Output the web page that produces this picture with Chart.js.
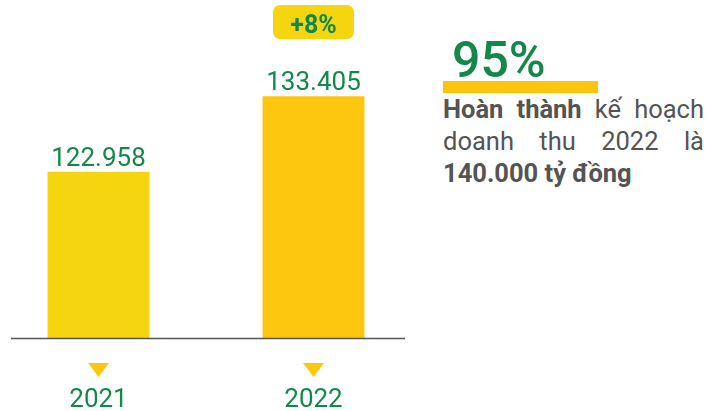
<!DOCTYPE html>
<html>
<head>
<meta charset="utf-8">
<script src="https://cdn.jsdelivr.net/npm/chart.js@4"></script>
<style>
  body { margin: 0; background: #fff; font-family: Roboto, sans-serif; }
  #wrap { position: relative; width: 711px; height: 411px; overflow: hidden; }
  #chartBox { position: absolute; left: -9px; top: 0; width: 430px; height: 411px; }
  .big { position: absolute; left: 452px; top: 35px; font-size: 50px; line-height: 1; font-weight: 500; color: #13884a; }
  .bar { position: absolute; left: 443px; top: 81px; width: 155px; height: 12px; background: #fcc60e; }
  .note { position: absolute; left: 443px; top: 93px; width: 261px; font-size: 25.5px; line-height: 32px; color: #545454; }
  .note div { text-align: justify; text-align-last: justify; }
  .note div.last { text-align-last: left; }
</style>
</head>
<body>
<div id="wrap">
  <div id="chartBox"><canvas id="revChart"></canvas></div>
  <div class="big">95%</div>
  <div class="bar"></div>
  <div class="note">
    <div><b>Hoàn thành</b> kế hoạch</div>
    <div>doanh thu 2022 là</div>
    <div class="last"><b>140.000 tỷ đồng</b></div>
  </div>
</div>
<script>
const years = ['2021', '2022'];
const revenue = [122958, 133405];
const growthBadges = ['', '+8%'];
const barColors = ['#f5d50f', '#fdc60f'];

const green = '#13884a';

const decorPlugin = {
  id: 'decor',
  afterDatasetsDraw(chart) {
    const ctx = chart.ctx;
    const area = chart.chartArea;
    const meta = chart.getDatasetMeta(0);
    ctx.save();

    // baseline
    ctx.strokeStyle = '#555';
    ctx.lineWidth = 1.5;
    ctx.beginPath();
    ctx.moveTo(area.left + 20, area.bottom + 0.5);
    ctx.lineTo(area.right - 16, area.bottom + 0.5);
    ctx.stroke();

    meta.data.forEach(function (bar, i) {
      // value label
      ctx.fillStyle = green;
      ctx.font = '26px Roboto';
      ctx.textAlign = 'center';
      ctx.textBaseline = 'alphabetic';
      ctx.fillText(revenue[i].toLocaleString('vi-VN'), bar.x, bar.y - 6);

      // marker triangle
      ctx.fillStyle = '#fdc60f';
      ctx.beginPath();
      ctx.moveTo(bar.x - 10.5, area.bottom + 25);
      ctx.lineTo(bar.x + 10.5, area.bottom + 25);
      ctx.lineTo(bar.x, area.bottom + 39);
      ctx.closePath();
      ctx.fill();

      // year label
      ctx.fillStyle = green;
      ctx.font = '26px Roboto';
      ctx.fillText(years[i], bar.x, area.bottom + 69);

      // growth badge
      if (growthBadges[i]) {
        ctx.fillStyle = '#f5d50f';
        ctx.beginPath();
        ctx.roundRect(bar.x - 40.5, 5, 81, 34, 7);
        ctx.fill();
        ctx.fillStyle = green;
        ctx.font = 'bold 25px Roboto';
        ctx.fillText(growthBadges[i], bar.x, 33);
      }
    });
    ctx.restore();
  }
};

new Chart(document.getElementById('revChart'), {
  type: 'bar',
  data: {
    labels: years,
    datasets: [{
      data: revenue,
      backgroundColor: barColors,
      borderWidth: 0,
      barPercentage: 0.474,
      categoryPercentage: 1
    }]
  },
  options: {
    responsive: true,
    maintainAspectRatio: false,
    animation: false,
    layout: { padding: { top: 0, bottom: 73, left: 0, right: 0 } },
    plugins: { legend: { display: false }, tooltip: { enabled: false } },
    scales: {
      x: { display: false },
      y: { display: false, min: 100000, max: 146700 }
    }
  },
  plugins: [decorPlugin]
});
</script>
</body>
</html>
